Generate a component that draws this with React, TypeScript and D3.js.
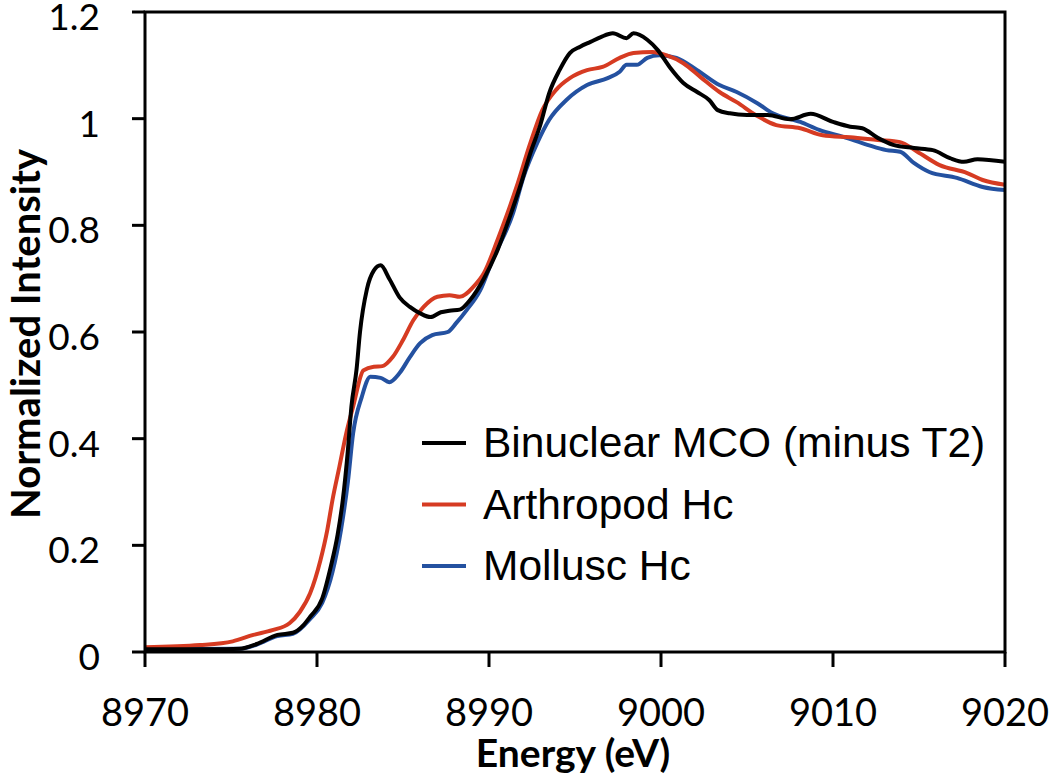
import React from "react";
import * as d3 from "d3";

const xTicks = [8970, 8980, 8990, 9000, 9010, 9020];
const yTicks = [0, 0.2, 0.4, 0.6, 0.8, 1, 1.2];
const yTickLabels = ["0", "0.2", "0.4", "0.6", "0.8", "1", "1.2"];

const seriesNames = ["Binuclear MCO (minus T2)", "Arthropod Hc", "Mollusc Hc"];
const seriesColors = ["#000000", "#d63b22", "#2451a0"];

const binuclearE = [8970, 8972, 8974, 8975.5, 8976.5, 8977.7, 8978.6, 8979.2, 8979.6, 8980.3, 8980.8, 8981.2, 8981.5, 8981.8, 8982.0, 8982.3, 8982.5, 8982.9, 8983.3, 8983.7, 8984.2, 8984.8, 8985.4, 8986.0, 8986.6, 8987.2, 8987.7, 8988.3, 8988.9, 8989.7, 8990.5, 8991.2, 8991.8, 8992.4, 8993.0, 8993.5, 8994.1, 8994.7, 8995.3, 8995.9, 8996.5, 8997.2, 8998.0, 8998.4, 8999.2, 8999.8, 9000.5, 9001.3, 9002.1, 9002.8, 9003.3, 9004.0, 9005.0, 9006.2, 9007.5, 9008.7, 9010.0, 9011.0, 9011.7, 9012.6, 9013.5, 9014.7, 9015.8, 9016.8, 9017.6, 9018.4, 9020];
const binuclearI = [0.005, 0.005, 0.005, 0.006, 0.015, 0.032, 0.036, 0.05, 0.066, 0.1, 0.16, 0.22, 0.285, 0.38, 0.46, 0.53, 0.6, 0.68, 0.715, 0.725, 0.7, 0.665, 0.647, 0.635, 0.628, 0.637, 0.64, 0.642, 0.66, 0.7, 0.754, 0.815, 0.872, 0.935, 0.99, 1.048, 1.091, 1.123, 1.135, 1.144, 1.153, 1.16, 1.151, 1.16, 1.148, 1.129, 1.097, 1.067, 1.05, 1.035, 1.016, 1.01, 1.007, 1.007, 0.999, 1.009, 0.994, 0.985, 0.982, 0.964, 0.951, 0.945, 0.941, 0.926, 0.919, 0.924, 0.919];

const arthropodE = [8970, 8973.2, 8975.1, 8976.3, 8977.4, 8978.4, 8979.0, 8979.6, 8980.2, 8980.6, 8980.9, 8981.3, 8981.7, 8982.1, 8982.7, 8983.3, 8983.8, 8984.4, 8985.0, 8985.6, 8986.2, 8987.0, 8987.7, 8988.3, 8989.1, 8989.7, 8990.5, 8991.0, 8991.6, 8992.4, 8993.1, 8993.9, 8994.7, 8995.7, 8996.6, 8997.6, 8998.4, 8999.5, 9000.3, 9001.3, 9002.3, 9003.4, 9004.4, 9005.6, 9006.7, 9008.1, 9009.4, 9011.0, 9012.6, 9013.9, 9014.9, 9016.2, 9017.8, 9018.7, 9020];
const arthropodI = [0.009, 0.013, 0.02, 0.032, 0.041, 0.054, 0.075, 0.11, 0.172, 0.229, 0.285, 0.347, 0.41, 0.46, 0.528, 0.535, 0.536, 0.553, 0.585, 0.622, 0.647, 0.666, 0.669, 0.666, 0.685, 0.71, 0.773, 0.816, 0.872, 0.954, 1.016, 1.054, 1.076, 1.091, 1.097, 1.114, 1.123, 1.125, 1.119, 1.104, 1.078, 1.05, 1.031, 1.005, 0.988, 0.982, 0.969, 0.965, 0.96, 0.956, 0.938, 0.913, 0.898, 0.885, 0.876];

const molluscE = [8970, 8975.5, 8976.5, 8977.7, 8978.6, 8979.6, 8980.3, 8980.9, 8981.4, 8981.8, 8982.1, 8982.6, 8983.1, 8983.7, 8984.2, 8984.8, 8985.4, 8986.0, 8986.7, 8987.6, 8988.1, 8988.7, 8989.5, 8990.2, 8991.4, 8992.0, 8992.8, 8993.5, 8994.5, 8995.7, 8996.9, 8997.6, 8998.0, 8998.6, 8999.2, 8999.9, 9000.9, 9002.1, 9003.4, 9004.4, 9005.6, 9006.5, 9008.1, 9009.2, 9010.6, 9012.0, 9013.1, 9013.9, 9014.7, 9015.6, 9017.2, 9018.7, 9020];
const molluscI = [0.005, 0.006, 0.014, 0.03, 0.034, 0.062, 0.092, 0.15, 0.23, 0.32, 0.41, 0.478, 0.516, 0.514, 0.506, 0.523, 0.553, 0.579, 0.594, 0.6, 0.617, 0.641, 0.679, 0.735, 0.823, 0.89, 0.954, 0.998, 1.035, 1.063, 1.076, 1.088, 1.101, 1.101, 1.114, 1.119, 1.114, 1.091, 1.063, 1.05, 1.029, 1.01, 0.994, 0.979, 0.966, 0.951, 0.941, 0.938, 0.917, 0.9, 0.889, 0.872, 0.866];

const W = 1050;
const H = 777;
const left = 145;
const right = 1005;
const top = 12;
const bottom = 652;

export default function App() {
  const x = d3.scaleLinear().domain([8970, 9020]).range([left, right]);
  const y = d3.scaleLinear().domain([0, 1.2]).range([bottom, top]);
  const line = d3
    .line<[number, number]>()
    .x((d) => x(d[0]))
    .y((d) => y(d[1]))
    .curve(d3.curveMonotoneX);

  const series = [
    { e: binuclearE, v: binuclearI },
    { e: arthropodE, v: arthropodI },
    { e: molluscE, v: molluscI },
  ];
  const drawOrder = [2, 1, 0];

  const tickFont = "Lato, 'Open Sans', sans-serif";
  const legendFont = "'Liberation Sans', Arial, sans-serif";

  return (
    <svg
      width={W}
      height={H}
      style={{ position: "absolute", left: 0, top: 0, background: "#fff" }}
    >
      <defs>
        <clipPath id="clip">
          <rect x={left} y={top - 5} width={right - left} height={bottom - top + 5} />
        </clipPath>
      </defs>
      <rect x={0} y={0} width={W} height={H} fill="#fff" />
      <g clipPath="url(#clip)">
        {drawOrder.map((i) => {
          const pts = series[i].e.map((e, k) => [e, series[i].v[k]] as [number, number]);
          return (
            <path
              key={i}
              d={line(pts) || ""}
              fill="none"
              stroke={seriesColors[i]}
              strokeWidth={4}
              strokeLinejoin="round"
              strokeLinecap="round"
            />
          );
        })}
      </g>
      <rect
        x={left}
        y={top}
        width={right - left}
        height={bottom - top}
        fill="none"
        stroke="#000"
        strokeWidth={3}
      />
      {yTicks.map((t, i) => (
        <g key={"y" + i}>
          <line x1={left - 13} x2={left} y1={y(t)} y2={y(t)} stroke="#000" strokeWidth={3} />
          <text
            x={100}
            y={y(t) + 18}
            textAnchor="end"
            fontFamily={tickFont}
            fontSize={37}
            fill="#000"
          >
            {yTickLabels[i]}
          </text>
        </g>
      ))}
      {xTicks.map((t, i) => (
        <g key={"x" + i}>
          <line x1={x(t)} x2={x(t)} y1={bottom} y2={bottom + 15} stroke="#000" strokeWidth={3} />
          <text
            x={x(t)}
            y={726}
            textAnchor="middle"
            fontFamily={tickFont}
            fontSize={38}
            fill="#000"
          >
            {t}
          </text>
        </g>
      ))}
      <text
        x={573}
        y={767}
        textAnchor="middle"
        fontFamily={tickFont}
        fontWeight="bold"
        fontSize={39}
        fill="#000"
      >
        Energy (eV)
      </text>
      <text
        transform={`translate(40, 334) rotate(-90)`}
        textAnchor="middle"
        fontFamily={tickFont}
        fontWeight="bold"
        fontSize={40}
        fill="#000"
      >
        Normalized Intensity
      </text>
      {seriesNames.map((name, i) => (
        <g key={"l" + i}>
          <line
            x1={422}
            x2={466}
            y1={443 + i * 61.5}
            y2={443 + i * 61.5}
            stroke={seriesColors[i]}
            strokeWidth={4}
          />
          <text
            x={483}
            y={457 + i * 61.5}
            fontFamily={legendFont}
            fontSize={42.5}
            fill="#000"
          >
            {name}
          </text>
        </g>
      ))}
    </svg>
  );
}
